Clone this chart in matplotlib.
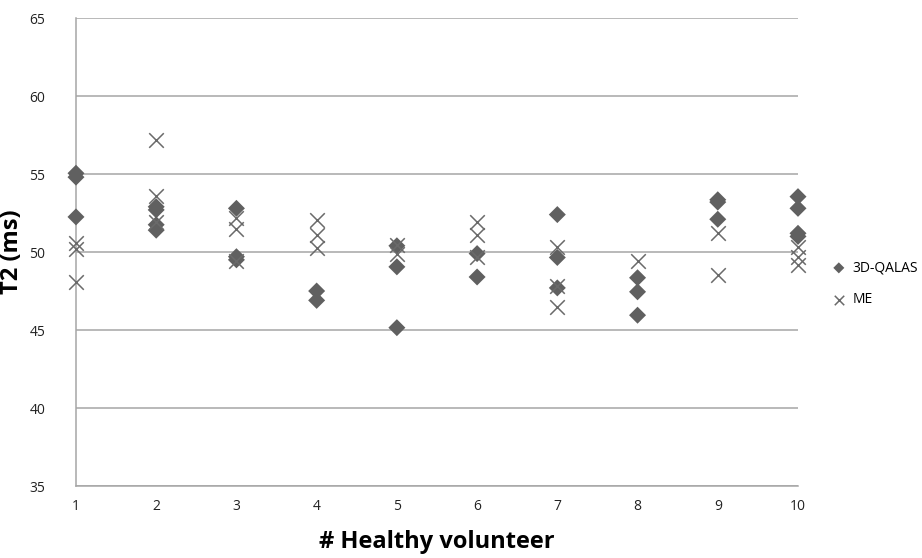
import matplotlib.pyplot as plt
import numpy as np

plt.rcParams['font.family'] = ['Open Sans', 'DejaVu Sans']

# T2 values (ms) per healthy volunteer
qalas_x = [1, 1, 1,
           2, 2, 2, 2,
           3, 3, 3,
           4, 4,
           5, 5, 5,
           6, 6,
           7, 7, 7,
           8, 8, 8,
           9, 9, 9,
           10, 10, 10, 10]
qalas_t2 = [55.05, 54.8, 52.25,
            52.9, 52.7, 51.75, 51.4,
            52.8, 49.7, 49.5,
            47.5, 46.9,
            50.4, 49.05, 45.15,
            49.9, 48.4,
            52.4, 49.65, 47.7,
            48.35, 47.45, 45.95,
            53.35, 53.2, 52.1,
            53.55, 52.8, 51.2, 51.0]

me_x = [1, 1, 1,
        2, 2, 2,
        3, 3, 3,
        4, 4, 4,
        5, 5,
        6, 6, 6,
        7, 7, 7,
        8,
        9, 9,
        10, 10, 10]
me_t2 = [50.6, 50.2, 48.1,
         57.2, 53.6, 51.9,
         52.2, 51.5, 49.4,
         52.05, 51.1, 50.25,
         50.45, 49.9,
         51.95, 51.1, 49.7,
         50.35, 47.8, 46.5,
         49.4,
         51.25, 48.5,
         50.35, 49.7, 49.15]

fig = plt.figure(figsize=(9.22, 5.58), dpi=100)
ax = fig.add_axes([0.0824, 0.129, 0.7831, 0.8387])

ax.scatter(qalas_x, qalas_t2, marker='D', s=75, color='#606060', edgecolors='none',
           label='3D-QALAS', zorder=3, clip_on=False)
ax.scatter(me_x, me_t2, marker='x', s=110, color='#6a6a6a', linewidths=1.1,
           label='ME', zorder=4, clip_on=False)

ax.set_xlim(1, 10)
ax.set_ylim(35, 65)
ax.set_xticks(np.arange(1, 11))
ax.set_yticks(np.arange(35, 66, 5))
ax.grid(axis='y', color='#a6a6a6', linewidth=1.1)
ax.set_axisbelow(True)
for side in ['top', 'right']:
    ax.spines[side].set_visible(False)
ax.spines['left'].set_color('#a6a6a6')
ax.spines['bottom'].set_color('#a6a6a6')
ax.spines['left'].set_linewidth(1.1)
ax.spines['bottom'].set_linewidth(1.1)
ax.tick_params(length=0, labelsize=10, colors='#222222')
ax.tick_params(axis='y', pad=22)
ax.tick_params(axis='x', pad=9)

ax.set_xlabel('# Healthy volunteer', fontsize=17, fontweight='bold', labelpad=12)
ax.set_ylabel('T2 (ms)', fontsize=17, fontweight='bold', labelpad=4)

ax.legend(loc='center left', bbox_to_anchor=(1.02, 0.432), frameon=False,
          fontsize=10, handletextpad=0.0, labelspacing=1.2, markerscale=0.65)

fig.savefig('out.png', dpi=100)
